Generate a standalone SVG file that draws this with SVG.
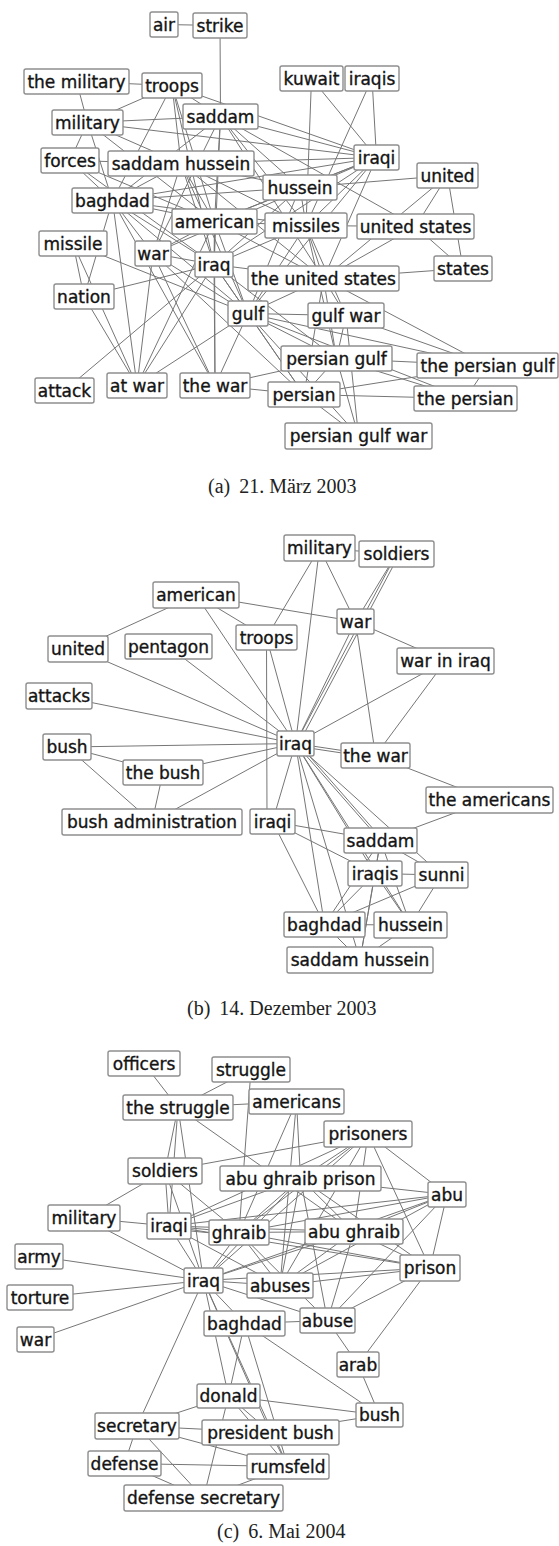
<svg xmlns="http://www.w3.org/2000/svg" width="559" height="1546" viewBox="0 0 559 1546">
<style>
.e line{stroke:#767676;stroke-width:1;fill:none}
.n rect{fill:#fff;stroke:#8e8e8e;stroke-width:1.4}
.n text{font-family:"DejaVu Sans",sans-serif;font-size:17px;fill:#141414;stroke:#141414;stroke-width:0.35;text-anchor:middle}
.cap{font-family:"Liberation Serif","Times New Roman",serif;font-size:20px;fill:#222}
</style>
<rect width="559" height="1546" fill="#fff"/>
<g id="graph-a">
<g id="a-edges" class="e">
<line x1="164" y1="24.5" x2="220" y2="25.5"/>
<line x1="220" y1="25.5" x2="220.5" y2="116.5"/>
<line x1="76.5" y1="81.5" x2="172" y2="85.5"/>
<line x1="76.5" y1="81.5" x2="87.5" y2="122.5"/>
<line x1="172" y1="85.5" x2="87.5" y2="122.5"/>
<line x1="172" y1="85.5" x2="220.5" y2="116.5"/>
<line x1="172" y1="85.5" x2="181" y2="163.5"/>
<line x1="172" y1="85.5" x2="376.5" y2="157.5"/>
<line x1="172" y1="85.5" x2="214.5" y2="221.5"/>
<line x1="172" y1="85.5" x2="214" y2="264.5"/>
<line x1="172" y1="85.5" x2="112.5" y2="200.5"/>
<line x1="87.5" y1="122.5" x2="220.5" y2="116.5"/>
<line x1="87.5" y1="122.5" x2="376.5" y2="157.5"/>
<line x1="87.5" y1="122.5" x2="70" y2="160.5"/>
<line x1="87.5" y1="122.5" x2="181" y2="163.5"/>
<line x1="87.5" y1="122.5" x2="112.5" y2="200.5"/>
<line x1="87.5" y1="122.5" x2="214.5" y2="221.5"/>
<line x1="220.5" y1="116.5" x2="376.5" y2="157.5"/>
<line x1="220.5" y1="116.5" x2="300" y2="187.5"/>
<line x1="220.5" y1="116.5" x2="112.5" y2="200.5"/>
<line x1="220.5" y1="116.5" x2="214.5" y2="221.5"/>
<line x1="220.5" y1="116.5" x2="153" y2="253.5"/>
<line x1="220.5" y1="116.5" x2="214" y2="264.5"/>
<line x1="220.5" y1="116.5" x2="306" y2="225.5"/>
<line x1="220.5" y1="116.5" x2="323.5" y2="278.5"/>
<line x1="220.5" y1="116.5" x2="415.5" y2="226.5"/>
<line x1="70" y1="160.5" x2="181" y2="163.5"/>
<line x1="70" y1="160.5" x2="112.5" y2="200.5"/>
<line x1="70" y1="160.5" x2="214.5" y2="221.5"/>
<line x1="70" y1="160.5" x2="214" y2="264.5"/>
<line x1="181" y1="163.5" x2="376.5" y2="157.5"/>
<line x1="181" y1="163.5" x2="300" y2="187.5"/>
<line x1="181" y1="163.5" x2="112.5" y2="200.5"/>
<line x1="181" y1="163.5" x2="214.5" y2="221.5"/>
<line x1="181" y1="163.5" x2="214" y2="264.5"/>
<line x1="181" y1="163.5" x2="306" y2="225.5"/>
<line x1="181" y1="163.5" x2="323.5" y2="278.5"/>
<line x1="181" y1="163.5" x2="248" y2="313.5"/>
<line x1="181" y1="163.5" x2="153" y2="253.5"/>
<line x1="311.5" y1="78.5" x2="306" y2="225.5"/>
<line x1="311.5" y1="78.5" x2="376.5" y2="157.5"/>
<line x1="372" y1="78.5" x2="376.5" y2="157.5"/>
<line x1="372" y1="78.5" x2="306" y2="225.5"/>
<line x1="376.5" y1="157.5" x2="300" y2="187.5"/>
<line x1="376.5" y1="157.5" x2="306" y2="225.5"/>
<line x1="376.5" y1="157.5" x2="323.5" y2="278.5"/>
<line x1="376.5" y1="157.5" x2="214.5" y2="221.5"/>
<line x1="376.5" y1="157.5" x2="214" y2="264.5"/>
<line x1="376.5" y1="157.5" x2="112.5" y2="200.5"/>
<line x1="376.5" y1="157.5" x2="248" y2="313.5"/>
<line x1="376.5" y1="157.5" x2="153" y2="253.5"/>
<line x1="447.5" y1="175.5" x2="300" y2="187.5"/>
<line x1="447.5" y1="175.5" x2="415.5" y2="226.5"/>
<line x1="447.5" y1="175.5" x2="323.5" y2="278.5"/>
<line x1="447.5" y1="175.5" x2="463" y2="268.5"/>
<line x1="300" y1="187.5" x2="112.5" y2="200.5"/>
<line x1="300" y1="187.5" x2="214.5" y2="221.5"/>
<line x1="300" y1="187.5" x2="306" y2="225.5"/>
<line x1="300" y1="187.5" x2="214" y2="264.5"/>
<line x1="300" y1="187.5" x2="248" y2="313.5"/>
<line x1="112.5" y1="200.5" x2="214.5" y2="221.5"/>
<line x1="112.5" y1="200.5" x2="306" y2="225.5"/>
<line x1="112.5" y1="200.5" x2="153" y2="253.5"/>
<line x1="112.5" y1="200.5" x2="84" y2="296.5"/>
<line x1="112.5" y1="200.5" x2="137" y2="385.5"/>
<line x1="112.5" y1="200.5" x2="215" y2="385.5"/>
<line x1="112.5" y1="200.5" x2="214" y2="264.5"/>
<line x1="112.5" y1="200.5" x2="248" y2="313.5"/>
<line x1="214.5" y1="221.5" x2="306" y2="225.5"/>
<line x1="214.5" y1="221.5" x2="153" y2="253.5"/>
<line x1="214.5" y1="221.5" x2="214" y2="264.5"/>
<line x1="214.5" y1="221.5" x2="215" y2="385.5"/>
<line x1="214.5" y1="221.5" x2="137" y2="385.5"/>
<line x1="214.5" y1="221.5" x2="248" y2="313.5"/>
<line x1="214.5" y1="221.5" x2="323.5" y2="278.5"/>
<line x1="306" y1="225.5" x2="415.5" y2="226.5"/>
<line x1="306" y1="225.5" x2="323.5" y2="278.5"/>
<line x1="306" y1="225.5" x2="214" y2="264.5"/>
<line x1="306" y1="225.5" x2="248" y2="313.5"/>
<line x1="306" y1="225.5" x2="346" y2="315.5"/>
<line x1="306" y1="225.5" x2="336.5" y2="358.5"/>
<line x1="415.5" y1="226.5" x2="323.5" y2="278.5"/>
<line x1="415.5" y1="226.5" x2="463" y2="268.5"/>
<line x1="323.5" y1="278.5" x2="463" y2="268.5"/>
<line x1="323.5" y1="278.5" x2="248" y2="313.5"/>
<line x1="323.5" y1="278.5" x2="487.5" y2="365.5"/>
<line x1="323.5" y1="278.5" x2="346" y2="315.5"/>
<line x1="323.5" y1="278.5" x2="336.5" y2="358.5"/>
<line x1="323.5" y1="278.5" x2="304" y2="394.5"/>
<line x1="73" y1="243.5" x2="84" y2="296.5"/>
<line x1="73" y1="243.5" x2="137" y2="385.5"/>
<line x1="73" y1="243.5" x2="248" y2="313.5"/>
<line x1="153" y1="253.5" x2="214" y2="264.5"/>
<line x1="153" y1="253.5" x2="137" y2="385.5"/>
<line x1="153" y1="253.5" x2="215" y2="385.5"/>
<line x1="153" y1="253.5" x2="248" y2="313.5"/>
<line x1="153" y1="253.5" x2="304" y2="394.5"/>
<line x1="214" y1="264.5" x2="215" y2="385.5"/>
<line x1="214" y1="264.5" x2="137" y2="385.5"/>
<line x1="214" y1="264.5" x2="248" y2="313.5"/>
<line x1="214" y1="264.5" x2="336.5" y2="358.5"/>
<line x1="214" y1="264.5" x2="64.5" y2="390.5"/>
<line x1="214" y1="264.5" x2="84" y2="296.5"/>
<line x1="214" y1="264.5" x2="304" y2="394.5"/>
<line x1="214" y1="264.5" x2="323.5" y2="278.5"/>
<line x1="84" y1="296.5" x2="137" y2="385.5"/>
<line x1="137" y1="385.5" x2="248" y2="313.5"/>
<line x1="215" y1="385.5" x2="248" y2="313.5"/>
<line x1="215" y1="385.5" x2="304" y2="394.5"/>
<line x1="215" y1="385.5" x2="336.5" y2="358.5"/>
<line x1="248" y1="313.5" x2="346" y2="315.5"/>
<line x1="248" y1="313.5" x2="336.5" y2="358.5"/>
<line x1="248" y1="313.5" x2="487.5" y2="365.5"/>
<line x1="248" y1="313.5" x2="304" y2="394.5"/>
<line x1="248" y1="313.5" x2="465.5" y2="398.5"/>
<line x1="248" y1="313.5" x2="358.5" y2="436"/>
<line x1="346" y1="315.5" x2="336.5" y2="358.5"/>
<line x1="346" y1="315.5" x2="358.5" y2="436"/>
<line x1="346" y1="315.5" x2="487.5" y2="365.5"/>
<line x1="336.5" y1="358.5" x2="487.5" y2="365.5"/>
<line x1="336.5" y1="358.5" x2="465.5" y2="398.5"/>
<line x1="336.5" y1="358.5" x2="304" y2="394.5"/>
<line x1="336.5" y1="358.5" x2="358.5" y2="436"/>
<line x1="487.5" y1="365.5" x2="465.5" y2="398.5"/>
<line x1="487.5" y1="365.5" x2="304" y2="394.5"/>
<line x1="304" y1="394.5" x2="465.5" y2="398.5"/>
<line x1="304" y1="394.5" x2="358.5" y2="436"/>
</g>
<g id="a-air" class="n"><rect x="150" y="12" width="28" height="25" rx="2"/><text x="164" y="30.5">air</text></g>
<g id="a-strike" class="n"><rect x="193" y="13" width="54" height="25" rx="2"/><text x="220" y="31.5">strike</text></g>
<g id="a-the-military" class="n"><rect x="24" y="69" width="105" height="25" rx="2"/><text x="76.5" y="87.5">the military</text></g>
<g id="a-troops" class="n"><rect x="142" y="73" width="60" height="25" rx="2"/><text x="172" y="91.5">troops</text></g>
<g id="a-military" class="n"><rect x="52" y="110" width="71" height="25" rx="2"/><text x="87.5" y="128.5">military</text></g>
<g id="a-saddam" class="n"><rect x="183" y="104" width="75" height="25" rx="2"/><text x="220.5" y="122.5">saddam</text></g>
<g id="a-forces" class="n"><rect x="41" y="148" width="58" height="25" rx="2"/><text x="70" y="166.5">forces</text></g>
<g id="a-saddam-hussein" class="n"><rect x="108" y="151" width="146" height="25" rx="2"/><text x="181" y="169.5">saddam hussein</text></g>
<g id="a-kuwait" class="n"><rect x="280" y="66" width="63" height="25" rx="2"/><text x="311.5" y="84.5">kuwait</text></g>
<g id="a-iraqis" class="n"><rect x="345" y="66" width="54" height="25" rx="2"/><text x="372" y="84.5">iraqis</text></g>
<g id="a-iraqi" class="n"><rect x="354" y="145" width="45" height="25" rx="2"/><text x="376.5" y="163.5">iraqi</text></g>
<g id="a-united" class="n"><rect x="417" y="163" width="61" height="25" rx="2"/><text x="447.5" y="181.5">united</text></g>
<g id="a-hussein" class="n"><rect x="263" y="175" width="74" height="25" rx="2"/><text x="300" y="193.5">hussein</text></g>
<g id="a-baghdad" class="n"><rect x="72" y="188" width="81" height="25" rx="2"/><text x="112.5" y="206.5">baghdad</text></g>
<g id="a-american" class="n"><rect x="172" y="209" width="85" height="25" rx="2"/><text x="214.5" y="227.5">american</text></g>
<g id="a-missiles" class="n"><rect x="265" y="213" width="82" height="25" rx="2"/><text x="306" y="231.5">missiles</text></g>
<g id="a-united-states" class="n"><rect x="357" y="214" width="117" height="25" rx="2"/><text x="415.5" y="232.5">united states</text></g>
<g id="a-missile" class="n"><rect x="39" y="231" width="68" height="25" rx="2"/><text x="73" y="249.5">missile</text></g>
<g id="a-war" class="n"><rect x="135" y="241" width="36" height="25" rx="2"/><text x="153" y="259.5">war</text></g>
<g id="a-iraq" class="n"><rect x="195" y="252" width="38" height="25" rx="2"/><text x="214" y="270.5">iraq</text></g>
<g id="a-states" class="n"><rect x="434" y="256" width="58" height="25" rx="2"/><text x="463" y="274.5">states</text></g>
<g id="a-the-united-states" class="n"><rect x="248" y="266" width="151" height="25" rx="2"/><text x="323.5" y="284.5">the united states</text></g>
<g id="a-nation" class="n"><rect x="54" y="284" width="60" height="25" rx="2"/><text x="84" y="302.5">nation</text></g>
<g id="a-gulf" class="n"><rect x="228" y="301" width="40" height="25" rx="2"/><text x="248" y="319.5">gulf</text></g>
<g id="a-gulf-war" class="n"><rect x="308" y="303" width="76" height="25" rx="2"/><text x="346" y="321.5">gulf war</text></g>
<g id="a-persian-gulf" class="n"><rect x="281" y="346" width="111" height="25" rx="2"/><text x="336.5" y="364.5">persian gulf</text></g>
<g id="a-the-persian-gulf" class="n"><rect x="417" y="353" width="141" height="25" rx="2"/><text x="487.5" y="371.5">the persian gulf</text></g>
<g id="a-attack" class="n"><rect x="35" y="378" width="59" height="25" rx="2"/><text x="64.5" y="396.5">attack</text></g>
<g id="a-at-war" class="n"><rect x="107" y="373" width="60" height="25" rx="2"/><text x="137" y="391.5">at war</text></g>
<g id="a-the-war" class="n"><rect x="180" y="373" width="70" height="25" rx="2"/><text x="215" y="391.5">the war</text></g>
<g id="a-persian" class="n"><rect x="268" y="382" width="72" height="25" rx="2"/><text x="304" y="400.5">persian</text></g>
<g id="a-the-persian" class="n"><rect x="414" y="386" width="103" height="25" rx="2"/><text x="465.5" y="404.5">the persian</text></g>
<g id="a-persian-gulf-war" class="n"><rect x="285" y="423" width="147" height="26" rx="2"/><text x="358.5" y="442">persian gulf war</text></g>
<text id="caption-a" class="cap" x="208" y="493">(a)<tspan dx="9">21. März 2003</tspan></text>
</g>
<g id="graph-b">
<g id="b-edges" class="e">
<line x1="319.5" y1="548" x2="396.5" y2="554"/>
<line x1="319.5" y1="548" x2="266.5" y2="637.5"/>
<line x1="319.5" y1="548" x2="295.5" y2="743.5"/>
<line x1="319.5" y1="548" x2="355.5" y2="621.5"/>
<line x1="396.5" y1="554" x2="355.5" y2="621.5"/>
<line x1="396.5" y1="554" x2="295.5" y2="743.5"/>
<line x1="399" y1="555" x2="298" y2="745"/>
<line x1="196" y1="595" x2="355.5" y2="621.5"/>
<line x1="196" y1="595" x2="266.5" y2="637.5"/>
<line x1="196" y1="595" x2="78" y2="649"/>
<line x1="196" y1="595" x2="295.5" y2="743.5"/>
<line x1="355.5" y1="621.5" x2="445.5" y2="661"/>
<line x1="355.5" y1="621.5" x2="375.5" y2="755.5"/>
<line x1="355.5" y1="621.5" x2="295.5" y2="743.5"/>
<line x1="445.5" y1="661" x2="295.5" y2="743.5"/>
<line x1="445.5" y1="661" x2="375.5" y2="755.5"/>
<line x1="266.5" y1="637.5" x2="295.5" y2="743.5"/>
<line x1="266.5" y1="637.5" x2="267" y2="821.5"/>
<line x1="78" y1="649" x2="295.5" y2="743.5"/>
<line x1="168.5" y1="646.5" x2="295.5" y2="743.5"/>
<line x1="59" y1="696" x2="295.5" y2="743.5"/>
<line x1="67" y1="747" x2="295.5" y2="743.5"/>
<line x1="67" y1="747" x2="163" y2="772.5"/>
<line x1="67" y1="747" x2="152" y2="822"/>
<line x1="163" y1="772.5" x2="295.5" y2="743.5"/>
<line x1="163" y1="772.5" x2="152" y2="822"/>
<line x1="152" y1="822" x2="295.5" y2="743.5"/>
<line x1="295.5" y1="743.5" x2="272.5" y2="821.5"/>
<line x1="295.5" y1="743.5" x2="375.5" y2="755.5"/>
<line x1="295.5" y1="746" x2="375.5" y2="758"/>
<line x1="375.5" y1="755.5" x2="489.5" y2="800"/>
<line x1="295.5" y1="743.5" x2="380.5" y2="840.5"/>
<line x1="297" y1="742" x2="382" y2="839"/>
<line x1="295.5" y1="743.5" x2="375" y2="873.5"/>
<line x1="295.5" y1="743.5" x2="441.5" y2="875"/>
<line x1="295.5" y1="743.5" x2="410.5" y2="925"/>
<line x1="295.5" y1="743.5" x2="324.5" y2="924.5"/>
<line x1="295.5" y1="743.5" x2="360" y2="960"/>
<line x1="272.5" y1="821.5" x2="380.5" y2="840.5"/>
<line x1="272.5" y1="821.5" x2="375" y2="873.5"/>
<line x1="272.5" y1="821.5" x2="324.5" y2="924.5"/>
<line x1="489.5" y1="800" x2="380.5" y2="840.5"/>
<line x1="380.5" y1="840.5" x2="375" y2="873.5"/>
<line x1="380.5" y1="840.5" x2="441.5" y2="875"/>
<line x1="380.5" y1="840.5" x2="410.5" y2="925"/>
<line x1="380.5" y1="840.5" x2="324.5" y2="924.5"/>
<line x1="380.5" y1="840.5" x2="360" y2="960"/>
<line x1="375" y1="873.5" x2="441.5" y2="875"/>
<line x1="375" y1="873.5" x2="324.5" y2="924.5"/>
<line x1="375" y1="873.5" x2="410.5" y2="925"/>
<line x1="375" y1="873.5" x2="360" y2="960"/>
<line x1="441.5" y1="875" x2="324.5" y2="924.5"/>
<line x1="441.5" y1="875" x2="410.5" y2="925"/>
<line x1="324.5" y1="924.5" x2="410.5" y2="925"/>
<line x1="324.5" y1="924.5" x2="360" y2="960"/>
<line x1="410.5" y1="925" x2="360" y2="960"/>
</g>
<g id="b-military" class="n"><rect x="284" y="535" width="71" height="26" rx="2"/><text x="319.5" y="554">military</text></g>
<g id="b-soldiers" class="n"><rect x="359" y="541" width="75" height="26" rx="2"/><text x="396.5" y="560">soldiers</text></g>
<g id="b-american" class="n"><rect x="153" y="582" width="86" height="26" rx="2"/><text x="196" y="601">american</text></g>
<g id="b-war" class="n"><rect x="337" y="609" width="37" height="25" rx="2"/><text x="355.5" y="627.5">war</text></g>
<g id="b-troops" class="n"><rect x="236" y="625" width="61" height="25" rx="2"/><text x="266.5" y="643.5">troops</text></g>
<g id="b-united" class="n"><rect x="48" y="636" width="60" height="26" rx="2"/><text x="78" y="655">united</text></g>
<g id="b-pentagon" class="n"><rect x="125" y="634" width="87" height="25" rx="2"/><text x="168.5" y="652.5">pentagon</text></g>
<g id="b-war-in-iraq" class="n"><rect x="397" y="648" width="97" height="26" rx="2"/><text x="445.5" y="667">war in iraq</text></g>
<g id="b-attacks" class="n"><rect x="26" y="683" width="66" height="26" rx="2"/><text x="59" y="702">attacks</text></g>
<g id="b-bush" class="n"><rect x="43" y="734" width="48" height="26" rx="2"/><text x="67" y="753">bush</text></g>
<g id="b-iraq" class="n"><rect x="277" y="731" width="37" height="25" rx="2"/><text x="295.5" y="749.5">iraq</text></g>
<g id="b-the-war" class="n"><rect x="341" y="743" width="69" height="25" rx="2"/><text x="375.5" y="761.5">the war</text></g>
<g id="b-the-bush" class="n"><rect x="123" y="760" width="80" height="25" rx="2"/><text x="163" y="778.5">the bush</text></g>
<g id="b-the-americans" class="n"><rect x="426" y="787" width="127" height="26" rx="2"/><text x="489.5" y="806">the americans</text></g>
<g id="b-bush-administration" class="n"><rect x="62" y="809" width="180" height="26" rx="2"/><text x="152" y="828">bush administration</text></g>
<g id="b-iraqi" class="n"><rect x="250" y="809" width="45" height="25" rx="2"/><text x="272.5" y="827.5">iraqi</text></g>
<g id="b-saddam" class="n"><rect x="344" y="828" width="73" height="25" rx="2"/><text x="380.5" y="846.5">saddam</text></g>
<g id="b-iraqis" class="n"><rect x="348" y="861" width="54" height="25" rx="2"/><text x="375" y="879.5">iraqis</text></g>
<g id="b-sunni" class="n"><rect x="415" y="862" width="53" height="26" rx="2"/><text x="441.5" y="881">sunni</text></g>
<g id="b-baghdad" class="n"><rect x="284" y="912" width="81" height="25" rx="2"/><text x="324.5" y="930.5">baghdad</text></g>
<g id="b-hussein" class="n"><rect x="374" y="912" width="73" height="26" rx="2"/><text x="410.5" y="931">hussein</text></g>
<g id="b-saddam-hussein" class="n"><rect x="287" y="947" width="146" height="26" rx="2"/><text x="360" y="966">saddam hussein</text></g>
<text id="caption-b" class="cap" x="187" y="1015">(b)<tspan dx="9">14. Dezember 2003</tspan></text>
</g>
<g id="graph-c">
<g id="c-edges" class="e">
<line x1="144" y1="1063.5" x2="178" y2="1107.5"/>
<line x1="251" y1="1069.5" x2="178" y2="1107.5"/>
<line x1="251" y1="1069.5" x2="239" y2="1232.5"/>
<line x1="178" y1="1107.5" x2="296.5" y2="1101.5"/>
<line x1="178" y1="1107.5" x2="165" y2="1171"/>
<line x1="178" y1="1107.5" x2="169" y2="1226"/>
<line x1="178" y1="1107.5" x2="203.5" y2="1280.5"/>
<line x1="178" y1="1107.5" x2="354" y2="1231.5"/>
<line x1="296.5" y1="1101.5" x2="300.5" y2="1178.5"/>
<line x1="296.5" y1="1101.5" x2="239" y2="1232.5"/>
<line x1="296.5" y1="1101.5" x2="280" y2="1285.5"/>
<line x1="165" y1="1171" x2="368" y2="1134"/>
<line x1="165" y1="1171" x2="84" y2="1218"/>
<line x1="165" y1="1171" x2="169" y2="1226"/>
<line x1="165" y1="1171" x2="203.5" y2="1280.5"/>
<line x1="165" y1="1171" x2="239" y2="1232.5"/>
<line x1="84" y1="1218" x2="169" y2="1226"/>
<line x1="84" y1="1218" x2="203.5" y2="1280.5"/>
<line x1="39" y1="1256.5" x2="203.5" y2="1280.5"/>
<line x1="40" y1="1297.5" x2="203.5" y2="1280.5"/>
<line x1="35.5" y1="1339.5" x2="203.5" y2="1280.5"/>
<line x1="169" y1="1226" x2="239" y2="1232.5"/>
<line x1="169" y1="1229" x2="239" y2="1235.5"/>
<line x1="169" y1="1226" x2="300.5" y2="1178.5"/>
<line x1="169" y1="1226" x2="447" y2="1194.5"/>
<line x1="169" y1="1226" x2="354" y2="1231.5"/>
<line x1="169" y1="1226" x2="203.5" y2="1280.5"/>
<line x1="169" y1="1226" x2="430" y2="1268"/>
<line x1="169" y1="1226" x2="280" y2="1285.5"/>
<line x1="169" y1="1226" x2="368" y2="1134"/>
<line x1="239" y1="1232.5" x2="300.5" y2="1178.5"/>
<line x1="239" y1="1232.5" x2="354" y2="1231.5"/>
<line x1="239" y1="1232.5" x2="447" y2="1194.5"/>
<line x1="239" y1="1232.5" x2="430" y2="1268"/>
<line x1="239" y1="1232.5" x2="203.5" y2="1280.5"/>
<line x1="239" y1="1232.5" x2="280" y2="1285.5"/>
<line x1="239" y1="1232.5" x2="327.5" y2="1320.5"/>
<line x1="239" y1="1232.5" x2="368" y2="1134"/>
<line x1="368" y1="1134" x2="447" y2="1194.5"/>
<line x1="368" y1="1134" x2="430" y2="1268"/>
<line x1="368" y1="1134" x2="354" y2="1231.5"/>
<line x1="368" y1="1134" x2="300.5" y2="1178.5"/>
<line x1="368" y1="1134" x2="203.5" y2="1280.5"/>
<line x1="368" y1="1134" x2="280" y2="1285.5"/>
<line x1="447" y1="1194.5" x2="300.5" y2="1178.5"/>
<line x1="447" y1="1194.5" x2="354" y2="1231.5"/>
<line x1="447" y1="1194.5" x2="430" y2="1268"/>
<line x1="447" y1="1194.5" x2="203.5" y2="1280.5"/>
<line x1="447" y1="1194.5" x2="327.5" y2="1320.5"/>
<line x1="447" y1="1194.5" x2="280" y2="1285.5"/>
<line x1="300.5" y1="1178.5" x2="354" y2="1231.5"/>
<line x1="300.5" y1="1178.5" x2="203.5" y2="1280.5"/>
<line x1="300.5" y1="1178.5" x2="430" y2="1268"/>
<line x1="300.5" y1="1178.5" x2="280" y2="1285.5"/>
<line x1="300.5" y1="1178.5" x2="327.5" y2="1320.5"/>
<line x1="354" y1="1231.5" x2="430" y2="1268"/>
<line x1="354" y1="1231.5" x2="203.5" y2="1280.5"/>
<line x1="354" y1="1231.5" x2="280" y2="1285.5"/>
<line x1="354" y1="1231.5" x2="327.5" y2="1320.5"/>
<line x1="430" y1="1268" x2="203.5" y2="1280.5"/>
<line x1="430" y1="1268" x2="280" y2="1285.5"/>
<line x1="430" y1="1268" x2="358" y2="1364.5"/>
<line x1="430" y1="1268" x2="327.5" y2="1320.5"/>
<line x1="203.5" y1="1280.5" x2="244.5" y2="1323.5"/>
<line x1="203.5" y1="1280.5" x2="280" y2="1285.5"/>
<line x1="203.5" y1="1280.5" x2="327.5" y2="1320.5"/>
<line x1="203.5" y1="1280.5" x2="228.5" y2="1396"/>
<line x1="203.5" y1="1280.5" x2="137" y2="1426"/>
<line x1="203.5" y1="1280.5" x2="270.5" y2="1432.5"/>
<line x1="203.5" y1="1280.5" x2="288" y2="1466.5"/>
<line x1="244.5" y1="1323.5" x2="379.5" y2="1415"/>
<line x1="244.5" y1="1323.5" x2="327.5" y2="1320.5"/>
<line x1="244.5" y1="1323.5" x2="228.5" y2="1396"/>
<line x1="244.5" y1="1323.5" x2="288" y2="1466.5"/>
<line x1="327.5" y1="1320.5" x2="358" y2="1364.5"/>
<line x1="358" y1="1364.5" x2="379.5" y2="1415"/>
<line x1="228.5" y1="1396" x2="379.5" y2="1415"/>
<line x1="228.5" y1="1396" x2="137" y2="1426"/>
<line x1="228.5" y1="1396" x2="270.5" y2="1432.5"/>
<line x1="228.5" y1="1396" x2="288" y2="1466.5"/>
<line x1="228.5" y1="1396" x2="203.5" y2="1498"/>
<line x1="137" y1="1426" x2="270.5" y2="1432.5"/>
<line x1="137" y1="1426" x2="124.5" y2="1463.5"/>
<line x1="137" y1="1426" x2="288" y2="1466.5"/>
<line x1="137" y1="1426" x2="203.5" y2="1498"/>
<line x1="124.5" y1="1463.5" x2="288" y2="1466.5"/>
<line x1="124.5" y1="1463.5" x2="203.5" y2="1498"/>
<line x1="270.5" y1="1432.5" x2="379.5" y2="1415"/>
<line x1="270.5" y1="1432.5" x2="288" y2="1466.5"/>
<line x1="288" y1="1466.5" x2="203.5" y2="1498"/>
</g>
<g id="c-officers" class="n"><rect x="108" y="1051" width="72" height="25" rx="2"/><text x="144" y="1069.5">officers</text></g>
<g id="c-struggle" class="n"><rect x="212" y="1057" width="78" height="25" rx="2"/><text x="251" y="1075.5">struggle</text></g>
<g id="c-americans" class="n"><rect x="249" y="1089" width="95" height="25" rx="2"/><text x="296.5" y="1107.5">americans</text></g>
<g id="c-the-struggle" class="n"><rect x="123" y="1095" width="110" height="25" rx="2"/><text x="178" y="1113.5">the struggle</text></g>
<g id="c-prisoners" class="n"><rect x="324" y="1121" width="88" height="26" rx="2"/><text x="368" y="1140">prisoners</text></g>
<g id="c-soldiers" class="n"><rect x="128" y="1158" width="74" height="26" rx="2"/><text x="165" y="1177">soldiers</text></g>
<g id="c-abu-ghraib-prison" class="n"><rect x="220" y="1166" width="161" height="25" rx="2"/><text x="300.5" y="1184.5">abu ghraib prison</text></g>
<g id="c-abu" class="n"><rect x="428" y="1182" width="38" height="25" rx="2"/><text x="447" y="1200.5">abu</text></g>
<g id="c-military" class="n"><rect x="48" y="1205" width="72" height="26" rx="2"/><text x="84" y="1224">military</text></g>
<g id="c-iraqi" class="n"><rect x="147" y="1213" width="44" height="26" rx="2"/><text x="169" y="1232">iraqi</text></g>
<g id="c-abu-ghraib" class="n"><rect x="305" y="1219" width="98" height="25" rx="2"/><text x="354" y="1237.5">abu ghraib</text></g>
<g id="c-ghraib" class="n"><rect x="209" y="1220" width="60" height="25" rx="2"/><text x="239" y="1238.5">ghraib</text></g>
<g id="c-army" class="n"><rect x="15" y="1244" width="48" height="25" rx="2"/><text x="39" y="1262.5">army</text></g>
<g id="c-prison" class="n"><rect x="400" y="1255" width="60" height="26" rx="2"/><text x="430" y="1274">prison</text></g>
<g id="c-iraq" class="n"><rect x="184" y="1268" width="39" height="25" rx="2"/><text x="203.5" y="1286.5">iraq</text></g>
<g id="c-abuses" class="n"><rect x="247" y="1273" width="66" height="25" rx="2"/><text x="280" y="1291.5">abuses</text></g>
<g id="c-torture" class="n"><rect x="7" y="1285" width="66" height="25" rx="2"/><text x="40" y="1303.5">torture</text></g>
<g id="c-abuse" class="n"><rect x="300" y="1308" width="55" height="25" rx="2"/><text x="327.5" y="1326.5">abuse</text></g>
<g id="c-baghdad" class="n"><rect x="204" y="1311" width="81" height="25" rx="2"/><text x="244.5" y="1329.5">baghdad</text></g>
<g id="c-war" class="n"><rect x="17" y="1327" width="37" height="25" rx="2"/><text x="35.5" y="1345.5">war</text></g>
<g id="c-arab" class="n"><rect x="337" y="1352" width="42" height="25" rx="2"/><text x="358" y="1370.5">arab</text></g>
<g id="c-donald" class="n"><rect x="197" y="1384" width="63" height="24" rx="2"/><text x="228.5" y="1402">donald</text></g>
<g id="c-bush" class="n"><rect x="356" y="1403" width="47" height="24" rx="2"/><text x="379.5" y="1421">bush</text></g>
<g id="c-secretary" class="n"><rect x="95" y="1413" width="84" height="26" rx="2"/><text x="137" y="1432">secretary</text></g>
<g id="c-president-bush" class="n"><rect x="202" y="1420" width="137" height="25" rx="2"/><text x="270.5" y="1438.5">president bush</text></g>
<g id="c-defense" class="n"><rect x="88" y="1451" width="73" height="25" rx="2"/><text x="124.5" y="1469.5">defense</text></g>
<g id="c-rumsfeld" class="n"><rect x="247" y="1454" width="82" height="25" rx="2"/><text x="288" y="1472.5">rumsfeld</text></g>
<g id="c-defense-secretary" class="n"><rect x="124" y="1485" width="159" height="26" rx="2"/><text x="203.5" y="1504">defense secretary</text></g>
<text id="caption-c" class="cap" x="217" y="1538">(c)<tspan dx="9">6. Mai 2004</tspan></text>
</g>
</svg>
